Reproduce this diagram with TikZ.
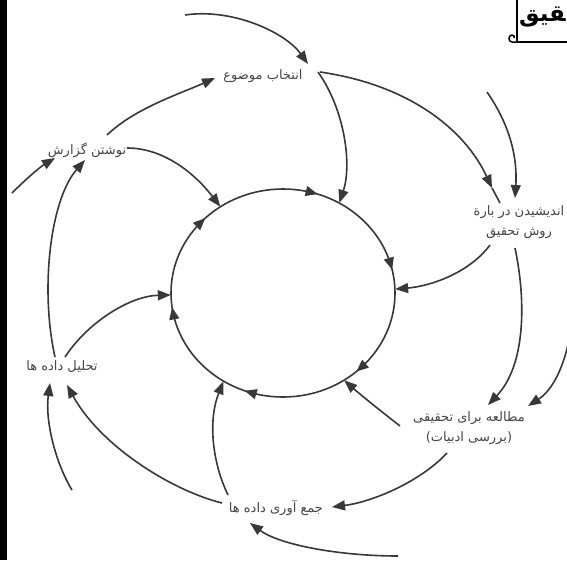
\documentclass[tikz,border=0pt]{standalone}
\usepackage{fontspec}
\TeXXeTstate=1
\newfontfamily\arabicfont[Script=Arabic]{DejaVu Sans}
\usetikzlibrary{arrows.meta,calc,shapes.geometric}
\definecolor{linec}{HTML}{383838}
\definecolor{txtc}{HTML}{454545}
\begin{document}
\begin{tikzpicture}[x=1pt,y=-1pt,
  conn/.style={draw=linec, line width=1.6pt, -{Triangle[length=13pt,width=10pt]}},
  plainln/.style={draw=linec, line width=1.6pt},
  cyctip/.style={draw=linec, line width=1.6pt, -{Triangle[length=12pt,width=10pt]}},
  lbl/.style={text=txtc, font=\arabicfont\fontsize{13}{20}\selectfont, inner sep=0pt, align=center},
]
\useasboundingbox (0,0) rectangle (567,560);
\clip (0,0) rectangle (567,560);
\fill[white] (0,0) rectangle (567,560);
\fill[black] (0,0) rectangle (7,560);

% title box
\node[anchor=east, inner sep=0pt, font=\arabicfont\bfseries\fontsize{23}{28}\selectfont] (title) at (566,17) {\beginR ^^^^200dقیق\endR};
\draw[black, line width=1.8pt] (517,0) -- (517,42) -- (570,42);
\draw[black, line width=1.5pt] (517,42) -- (512,42) .. controls (508,42) and (508,35) .. (512,35) .. controls (514,35) and (515,37) .. (514,38);

% central cycle
\node[ellipse, minimum width=224pt, minimum height=208pt, inner sep=0pt] (c) at (283,293) {};
\draw[plainln] (c.center) ellipse [x radius=112, y radius=104];
\foreach \t in {49,110,172,226,288,347}{
  \draw[cyctip] ({283+112*cos(\t-4)},{293+104*sin(\t-4)}) -- ({283+112*cos(\t)},{293+104*sin(\t)});
}

% labels
\node[lbl] (topic) at (263,76) {\beginR انتخاب موضوع\endR};
\node[lbl] (report) at (87,150) {\beginR نوشتن گزارش\endR};
\node[lbl] (method) at (519,222) {\beginR اندیشیدن در بارة\endR\\\beginR روش تحقیق\endR};
\node[lbl] (study) at (469,428) {\beginR مطالعه برای تحقیقی\endR\\\beginR (بررسی ادبیات)\endR};
\node[lbl] (collect) at (276,508) {\beginR جمع آوری داده ها\endR};
\node[lbl] (analyze) at (62,367) {\beginR تحلیل داده ها\endR};

% free ends
\coordinate (s1) at (185,15);
\coordinate (s2) at (487,92);
\coordinate (s3) at (568,345);
\coordinate (s4) at (398,556);
\coordinate (s5) at (72,490);
\coordinate (s6) at (12,193);
\coordinate (m1) at ($(method)+(-27,-34)$);

% connectors
\draw[conn] (s1) .. controls (232,8) and (285,32) .. ($(topic)+(45,-12)$);
\draw[conn] ($(report)+(20,-15)$) .. controls (135,108) and (182,93) .. ($(topic)+(-48,2)$);
\draw[conn] ($(topic)+(55,-4)$) .. controls (345,110) and (352,165) .. (c.58.5);
\draw[conn] ($(topic)+(57,-4)$) .. controls (410,85) and (465,130) .. (m1);
\draw[plainln] (m1) -- ($(method)+(-19,-19)$);
\draw[conn] (s2) .. controls (505,118) and (518,150) .. ($(method)+(-4,-24)$);
\draw[conn] ($(method)+(-29,23)$) .. controls (470,272) and (432,286) .. (c.2.5);
\draw[conn] ($(method)+(-4,26)$) .. controls (526,300) and (526,365) .. ($(study)+(19,-23)$);
\draw[conn] (s3) .. controls (560,378) and (548,393) .. ($(study)+(59,-22)$);
\draw[conn] ($(study)+(-69,-2)$) .. controls (382,412) and (362,396) .. (c.-55);
\draw[conn] ($(study)+(-22,25)$) .. controls (420,482) and (372,502) .. ($(collect)+(56,-1)$);
\draw[conn] (s4) .. controls (340,556) and (280,545) .. ($(collect)+(-26,15)$);
\draw[conn] ($(collect)+(-48,-13)$) .. controls (212,462) and (208,420) .. (c.-124);
\draw[conn] ($(collect)+(-54,-5)$) .. controls (170,490) and (100,445) .. ($(analyze)+(5,18)$);
\draw[conn] (s5) .. controls (55,462) and (45,420) .. ($(analyze)+(-12,16)$);
\draw[conn] ($(analyze)+(3,-10)$) .. controls (88,322) and (130,296) .. (c.181.5);
\draw[conn] ($(analyze)+(-7,-10)$) .. controls (40,290) and (50,200) .. ($(report)+(-2,10)$);
\draw[conn] (s6) .. controls (25,180) and (40,167) .. ($(report)+(-32,8)$);
\draw[conn] ($(report)+(40,-2)$) .. controls (165,148) and (196,175) .. (c.126.7);
\end{tikzpicture}
\end{document}
